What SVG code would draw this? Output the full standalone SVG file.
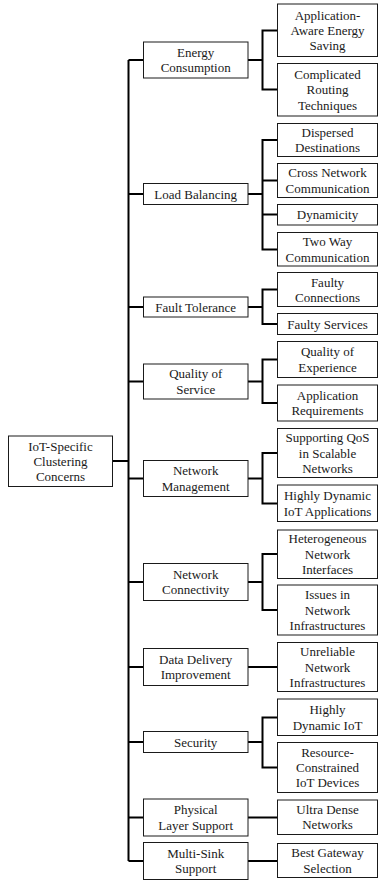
<svg xmlns="http://www.w3.org/2000/svg" width="378" height="880" viewBox="0 0 378 880">
<style>
rect.b{fill:#fff;stroke:#1a1a1a;stroke-width:1}
text{font-family:"Liberation Serif","Times New Roman",Tinos,"DejaVu Serif",serif;font-size:13px;fill:#1a1a1a;text-anchor:middle}
.c path{fill:none;stroke:#000;stroke-width:2;stroke-linejoin:miter}
</style>
<rect width="378" height="880" fill="#fff"/>
<g class="c" id="connectors">
<path d="M128.5 60 V861"/>
<path d="M112.5 461 H128.5"/>
<path d="M128.5 60 H143.5 M128.5 194 H143.5 M128.5 307 H143.5 M128.5 381.5 H143.5 M128.5 478.5 H143.5 M128.5 582 H143.5 M128.5 667 H143.5 M128.5 742 H143.5 M128.5 817.5 H143.5 M128.5 861 H143.5"/>
<path d="M248 60 H262.5 M277.5 30.5 H262.5 V89.5 H277.5"/>
<path d="M248 194 H262.5 M277.5 140 H262.5 V249.5 H277.5 M262.5 180.5 H277.5 M262.5 214.5 H277.5"/>
<path d="M248 307 H262.5 M277.5 289.5 H262.5 V324 H277.5"/>
<path d="M248 381.5 H262.5 M277.5 359.5 H262.5 V403 H277.5"/>
<path d="M248 478.5 H262.5 M277.5 453 H262.5 V503.5 H277.5"/>
<path d="M248 582 H262.5 M277.5 554 H262.5 V610 H277.5"/>
<path d="M248 667 H277.5"/>
<path d="M248 742 H262.5 M277.5 717.5 H262.5 V767.5 H277.5"/>
<path d="M248 817.5 H277.5"/>
<path d="M248 861 H277.5"/>
</g>
<g font-family="Liberation Serif, Times New Roman, serif">
<g id="root"><rect class="b" x="8.5" y="436" width="104" height="50.5"/><text x="60.5" y="450.5">IoT-Specific</text><text x="60.5" y="465.8">Clustering</text><text x="60.5" y="481.1">Concerns</text></g>
<g id="energy"><rect class="b" x="143.5" y="42" width="104.5" height="36"/><text x="195.7" y="56.9">Energy</text><text x="195.7" y="72.2">Consumption</text></g>
<g id="load"><rect class="b" x="143.5" y="183.5" width="104.5" height="21"/><text x="195.7" y="198.5">Load Balancing</text></g>
<g id="fault"><rect class="b" x="143.5" y="297" width="104.5" height="20"/><text x="195.7" y="311.5">Fault Tolerance</text></g>
<g id="qos"><rect class="b" x="143.5" y="364" width="104.5" height="35"/><text x="195.7" y="378.4">Quality of</text><text x="195.7" y="393.7">Service</text></g>
<g id="nm"><rect class="b" x="143.5" y="460.5" width="104.5" height="36"/><text x="195.7" y="475.4">Network</text><text x="195.7" y="490.7">Management</text></g>
<g id="nc"><rect class="b" x="143.5" y="563.5" width="104.5" height="37"/><text x="195.7" y="578.9">Network</text><text x="195.7" y="594.2">Connectivity</text></g>
<g id="dd"><rect class="b" x="143.5" y="648.5" width="104.5" height="37"/><text x="195.7" y="663.9">Data Delivery</text><text x="195.7" y="679.2">Improvement</text></g>
<g id="sec"><rect class="b" x="143.5" y="731.5" width="104.5" height="21"/><text x="195.7" y="746.5">Security</text></g>
<g id="pl"><rect class="b" x="143.5" y="799" width="104.5" height="37"/><text x="195.7" y="814.4">Physical</text><text x="195.7" y="829.7">Layer Support</text></g>
<g id="ms"><rect class="b" x="143.5" y="842.5" width="104.5" height="37"/><text x="195.7" y="857.9">Multi-Sink</text><text x="195.7" y="873.2">Support</text></g>
<g id="l1"><rect class="b" x="277.5" y="4" width="100" height="52.5"/><text x="327.5" y="19.5">Application-</text><text x="327.5" y="34.8">Aware Energy</text><text x="327.5" y="50.1">Saving</text></g>
<g id="l2"><rect class="b" x="277.5" y="63.5" width="100" height="52.5"/><text x="327.5" y="78.9">Complicated</text><text x="327.5" y="94.2">Routing</text><text x="327.5" y="109.5">Techniques</text></g>
<g id="l3"><rect class="b" x="277.5" y="123.5" width="100" height="33"/><text x="327.5" y="136.9">Dispersed</text><text x="327.5" y="152.2">Destinations</text></g>
<g id="l4"><rect class="b" x="277.5" y="163.5" width="100" height="34"/><text x="327.5" y="177.4">Cross Network</text><text x="327.5" y="192.7">Communication</text></g>
<g id="l5"><rect class="b" x="277.5" y="204.5" width="100" height="20.5"/><text x="327.5" y="219.2">Dynamicity</text></g>
<g id="l6"><rect class="b" x="277.5" y="232.5" width="100" height="33.5"/><text x="327.5" y="246.2">Two Way</text><text x="327.5" y="261.5">Communication</text></g>
<g id="l7"><rect class="b" x="277.5" y="272.5" width="100" height="34"/><text x="327.5" y="286.5">Faulty</text><text x="327.5" y="301.8">Connections</text></g>
<g id="l8"><rect class="b" x="277.5" y="313.5" width="100" height="21"/><text x="327.5" y="328.5">Faulty Services</text></g>
<g id="l9"><rect class="b" x="277.5" y="341.5" width="100" height="36"/><text x="327.5" y="356.4">Quality of</text><text x="327.5" y="371.7">Experience</text></g>
<g id="l10"><rect class="b" x="277.5" y="385" width="100" height="36"/><text x="327.5" y="399.9">Application</text><text x="327.5" y="415.2">Requirements</text></g>
<g id="l11"><rect class="b" x="277.5" y="428.5" width="100" height="49"/><text x="327.5" y="442.2">Supporting QoS</text><text x="327.5" y="457.5">in Scalable</text><text x="327.5" y="472.8">Networks</text></g>
<g id="l12"><rect class="b" x="277.5" y="485" width="100" height="36.5"/><text x="327.5" y="500.2">Highly Dynamic</text><text x="327.5" y="515.5">IoT Applications</text></g>
<g id="l13"><rect class="b" x="277.5" y="530" width="100" height="48.5"/><text x="327.5" y="543.4">Heterogeneous</text><text x="327.5" y="558.7">Network</text><text x="327.5" y="574">Interfaces</text></g>
<g id="l14"><rect class="b" x="277.5" y="585" width="100" height="50"/><text x="327.5" y="599.2">Issues in</text><text x="327.5" y="614.5">Network</text><text x="327.5" y="629.8">Infrastructures</text></g>
<g id="l15"><rect class="b" x="277.5" y="642.5" width="100" height="49"/><text x="327.5" y="656.2">Unreliable</text><text x="327.5" y="671.5">Network</text><text x="327.5" y="686.8">Infrastructures</text></g>
<g id="l16"><rect class="b" x="277.5" y="699" width="100" height="36.5"/><text x="327.5" y="714.2">Highly</text><text x="327.5" y="729.5">Dynamic IoT</text></g>
<g id="l17"><rect class="b" x="277.5" y="742.5" width="100" height="50"/><text x="327.5" y="756.7">Resource-</text><text x="327.5" y="772">Constrained</text><text x="327.5" y="787.3">IoT Devices</text></g>
<g id="l18"><rect class="b" x="277.5" y="800" width="100" height="34.5"/><text x="327.5" y="814.1">Ultra Dense</text><text x="327.5" y="829.4">Networks</text></g>
<g id="l19"><rect class="b" x="277.5" y="843.5" width="100" height="34"/><text x="327.5" y="857.4">Best Gateway</text><text x="327.5" y="872.7">Selection</text></g>
</g>
</svg>
